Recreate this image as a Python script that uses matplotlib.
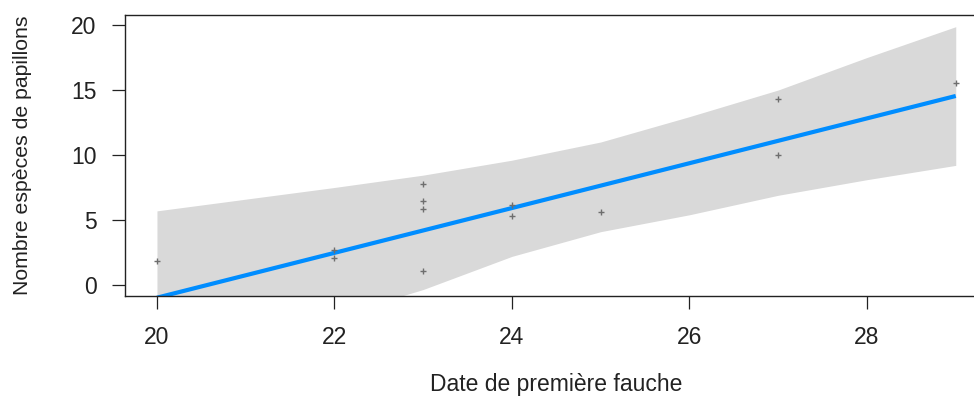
import numpy as np
import matplotlib
matplotlib.use("Agg")
import matplotlib.pyplot as plt

plt.rcParams['font.family'] = ['Liberation Sans', 'DejaVu Sans']

# partial residuals
x_pts = [20, 22, 22, 23, 23, 23, 23, 24, 24, 25, 27, 27, 29]
y_pts = [1.87, 2.69, 2.10, 7.79, 6.46, 5.85, 1.05, 6.15, 5.33, 5.64, 14.33, 10.02, 15.54]

# fitted line and confidence band
fit_x = [20, 29]
fit_y = [-0.98, 14.54]
band_x = [20, 21, 22, 23, 24, 25, 26, 27, 28, 29]
band_hi = [5.70, 6.60, 7.50, 8.45, 9.60, 11.00, 12.95, 15.00, 17.50, 19.87]
band_lo = [-7.60, -4.90, -2.40, -0.35, 2.20, 4.10, 5.40, 6.90, 8.10, 9.20]

x_ticks = [20, 22, 24, 26, 28]
y_ticks = [0, 5, 10, 15, 20]

fig = plt.figure(figsize=(9.74, 3.96), dpi=100)
ax = fig.add_axes([125/974, 100/396, 862.7/974, 281/396])

ax.fill_between(band_x, band_lo, band_hi, color='#D9D9D9', lw=0, zorder=1)
ax.plot(fit_x, fit_y, color='#008DFF', lw=3, solid_capstyle='butt', zorder=2)
ax.plot(x_pts, y_pts, ls='none', marker='+', ms=4, mew=1, color='#6E6E6E', zorder=3)

ax.set_xlim(19.64, 29.36)
ax.set_ylim(-0.85, 20.77)
ax.set_xticks(x_ticks)
ax.set_yticks(y_ticks)
ax.set_xticklabels([str(v) for v in x_ticks])
ax.set_yticklabels([str(v) for v in y_ticks])
ax.tick_params(axis='both', length=9.5, width=0.9, colors='#222222', labelsize=16.5)
ax.tick_params(axis='x', pad=12)
ax.tick_params(axis='y', pad=11)
for s in ax.spines.values():
    s.set_linewidth(1.0)
    s.set_color('#222222')
ax.spines['right'].set_visible(False)

ax.set_xlabel('Date de première fauche', fontsize=16.5, color='#222222', va='center')
ax.xaxis.set_label_coords(0.5, (296 - 385) / 281)
ax.set_ylabel('Nombre espèces de papillons', fontsize=15.3, color='#222222', va='center')
ax.yaxis.set_label_coords((23 - 125) / 862.7, 0.5)

fig.savefig('out.png', dpi=100)
